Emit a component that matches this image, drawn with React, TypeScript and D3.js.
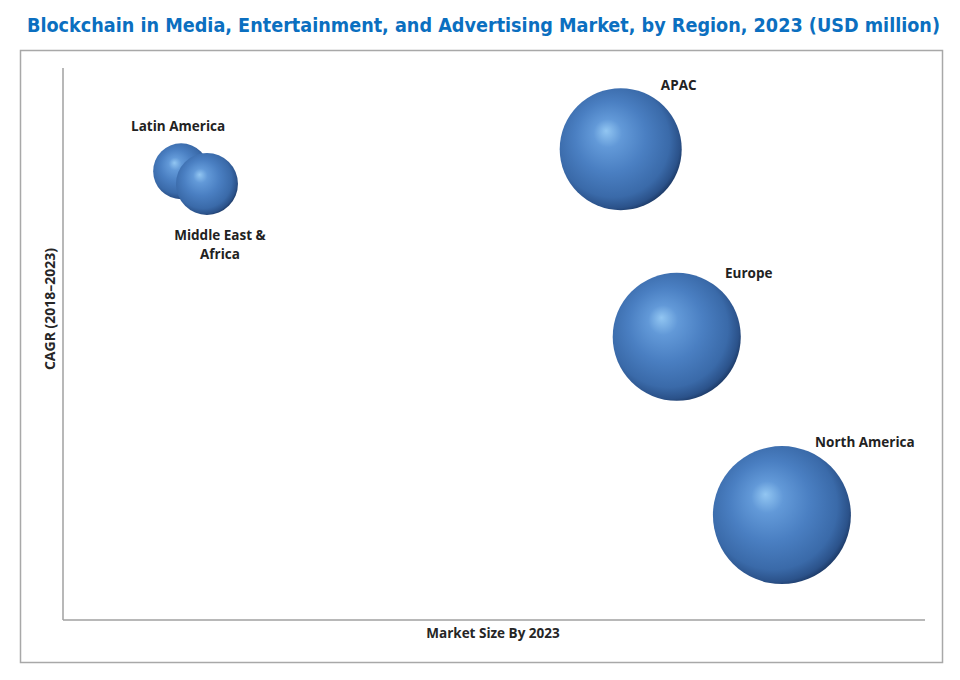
import { useEffect, useRef } from "react";
import * as d3 from "d3";

// regions, position on the bubble chart and 2023 market size (relative)
const regions = ["Latin America", "Middle East & Africa", "APAC", "Europe", "North America"];
const marketSize = [13.7, 16.7, 64.7, 71.2, 83.4];
const cagr = [81.3, 79.0, 85.3, 51.3, 19.0];
const bubbleSize = [78, 96, 372, 410, 476];

// label offsets relative to bubble centre
const labelLines = [["Latin America"], ["Middle East &", "Africa"], ["APAC"], ["Europe"], ["North America"]];
const labelDx = [-3, 13, 58, 72, 83];
const labelDy = [-45, 51, -64, -64, -73];

const W = 960;
const H = 680;

export default function App() {
  const ref = useRef<SVGSVGElement | null>(null);

  useEffect(() => {
    if (!ref.current) return;
    ref.current.innerHTML = "";
    const svg = d3.select(ref.current);

    const margin = { top: 68, right: 35, bottom: 60, left: 63 };
    const x = d3.scaleLinear().domain([0, 100]).range([margin.left, W - margin.right]);
    const y = d3.scaleLinear().domain([0, 100]).range([H - margin.bottom, margin.top]);
    const r = d3.scaleSqrt().domain([0, 476]).range([0, 69]);

    const defs = svg.append("defs");
    const grad = defs
      .append("radialGradient")
      .attr("id", "sphere")
      .attr("cx", "0.45")
      .attr("cy", "0.45")
      .attr("r", "0.58")
      .attr("fx", "0.38")
      .attr("fy", "0.35");
    [
      [0, "#92c6f2"],
      [0.2, "#6299d8"],
      [0.5, "#4a7fc2"],
      [0.8, "#3a6aa9"],
      [0.93, "#2b528a"],
      [1, "#1a355f"],
    ].forEach(([o, c]) => grad.append("stop").attr("offset", o as number).attr("stop-color", c as string));

    // title
    svg
      .append("text")
      .attr("x", 27)
      .attr("y", 32)
      .attr("textLength", 913)
      .attr("lengthAdjust", "spacingAndGlyphs")
      .attr("font-family", "'DejaVu Sans Condensed', 'Liberation Sans Narrow', Roboto, sans-serif")
      .attr("font-weight", "bold")
      .attr("font-size", 20)
      .attr("fill", "#0b6fc0")
      .text("Blockchain in Media, Entertainment, and Advertising Market, by Region, 2023 (USD million)");

    // frame
    svg
      .append("rect")
      .attr("x", 20.5)
      .attr("y", 50.5)
      .attr("width", 922)
      .attr("height", 612)
      .attr("fill", "none")
      .attr("stroke", "#a8a8a8")
      .attr("stroke-width", 1.5);

    // axes
    svg
      .append("line")
      .attr("x1", x(0))
      .attr("x2", x(0))
      .attr("y1", y(100))
      .attr("y2", y(0))
      .attr("stroke", "#a0a0a0")
      .attr("stroke-width", 1.5);
    svg
      .append("line")
      .attr("x1", x(0))
      .attr("x2", x(100))
      .attr("y1", y(0))
      .attr("y2", y(0))
      .attr("stroke", "#a0a0a0")
      .attr("stroke-width", 1.5);

    const font = "'Open Sans', 'Noto Sans', sans-serif";

    svg
      .append("text")
      .attr("x", 493)
      .attr("y", 638)
      .attr("text-anchor", "middle")
      .attr("font-family", font)
      .attr("font-weight", "bold")
      .attr("font-size", 13.5)
      .attr("fill", "#262626")
      .text("Market Size By 2023");

    svg
      .append("text")
      .attr("transform", `translate(55,309) rotate(-90)`)
      .attr("text-anchor", "middle")
      .attr("font-family", font)
      .attr("font-weight", "bold")
      .attr("font-size", 14)
      .attr("fill", "#262626")
      .text("CAGR (2018–2023)");

    const data = regions.map((name, i) => ({
      name,
      x: marketSize[i],
      y: cagr[i],
      s: bubbleSize[i],
      lines: labelLines[i],
      dx: labelDx[i],
      dy: labelDy[i],
    }));

    svg
      .append("g")
      .selectAll("circle")
      .data(data)
      .join("circle")
      .attr("cx", (d) => x(d.x))
      .attr("cy", (d) => y(d.y))
      .attr("r", (d) => r(d.s))
      .attr("fill", "url(#sphere)");

    const labels = svg
      .append("g")
      .selectAll("text")
      .data(data)
      .join("text")
      .attr("text-anchor", "middle")
      .attr("font-family", font)
      .attr("font-weight", "bold")
      .attr("font-size", 13.5)
      .attr("fill", "#222");
    labels
      .selectAll("tspan")
      .data((d) => d.lines.map((l, j) => ({ l, j, d })))
      .join("tspan")
      .attr("x", (t) => x(t.d.x) + t.d.dx)
      .attr("y", (t) => y(t.d.y) + t.d.dy + 5 + t.j * 19)
      .text((t) => t.l);
  }, []);

  return (
    <svg
      ref={ref}
      width={W}
      height={H}
      style={{ position: "absolute", left: 0, top: 0, background: "#fff" }}
    />
  );
}
